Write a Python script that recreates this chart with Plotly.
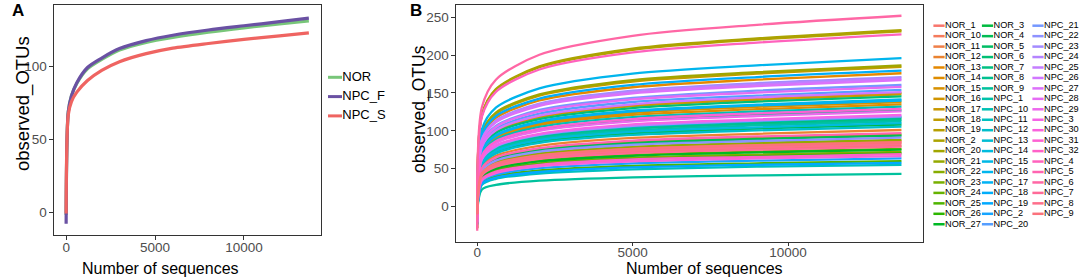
import math
import plotly.graph_objects as go

W, H = 1084, 280

# ---------------- Panel A data (group means) ----------------
a_groups = ["NOR", "NPC_F", "NPC_S"]
a_colors = ["#78C679", "#6A51A3", "#EF6461"]
a_x = [0, 120, 300, 600, 1200, 2000, 3000, 4500, 6000, 8000, 10000, 12000, 13650]
a_nor = [-2, 69, 80, 88.5, 98.5, 105, 111.5, 116.8, 120.2, 123.8, 126.8, 129.5, 131.5]
a_npc_f = [-8, 69, 80, 89, 99.5, 106, 112.5, 118, 121.7, 125.3, 128.2, 131, 133.5]
a_npc_s = [-1, 67, 76, 82.5, 90.5, 97.5, 103.5, 109, 112.8, 116, 118.8, 121.3, 123.3]

# ---------------- Panel B data (samples) ----------------
b_names = ["NOR_1", "NOR_10", "NOR_11", "NOR_12", "NOR_13", "NOR_14", "NOR_15", "NOR_16", "NOR_17",
           "NOR_18", "NOR_19", "NOR_2", "NOR_20", "NOR_21", "NOR_22", "NOR_23", "NOR_24", "NOR_25",
           "NOR_26", "NOR_27", "NOR_3", "NOR_4", "NOR_5", "NOR_6", "NOR_7", "NOR_8", "NOR_9",
           "NPC_1", "NPC_10", "NPC_11", "NPC_12", "NPC_13", "NPC_14", "NPC_15", "NPC_16", "NPC_17",
           "NPC_18", "NPC_19", "NPC_2", "NPC_20", "NPC_21", "NPC_22", "NPC_23", "NPC_24", "NPC_25",
           "NPC_26", "NPC_27", "NPC_28", "NPC_29", "NPC_3", "NPC_30", "NPC_31", "NPC_32", "NPC_4",
           "NPC_5", "NPC_6", "NPC_7", "NPC_8", "NPC_9"]
b_x = [0, 150, 600, 2000, 5000, 9000, 13650]
b_at_0 = [-10, -11, -10, -13, -22, -17, -17, -18, -19, -23, -29, -29, -23, -11, -9, -9.5, -12, -7.5,
          -9, -9.5, -13.5, -12, -14.5, -18, -16, -14.5, -5.5, -14, -16.5, -7, -13, -15, -14, -18,
          -24.5, -17.5, -22.5, -7, -8, -19, -20, -11.5, -21.5, -15, -21, -19, -21, -20, -16, -15,
          -8.5, -16, -8.5, -28.5, -12, -32, -10, -10, -10.5]
b_at_150 = [44, 45, 41.5, 52.5, 91.5, 70, 72, 77, 78, 96, 120.5, 121, 97, 46, 37.5, 39.5, 49.5, 31,
            36.5, 39, 56, 48.5, 60.5, 75.5, 66, 59.5, 22.5, 58.5, 68.5, 28.5, 55, 61.5, 57, 73.5,
            102, 73, 93.5, 30, 33, 80, 83.5, 47.5, 89, 62, 88, 78.5, 87, 82, 65.5, 63, 34.5, 67,
            36, 118.5, 50.5, 131, 41, 42.5, 44]
b_at_600 = [56, 57.5, 53, 67, 117, 90, 92, 98.5, 100, 122.5, 154, 155, 124, 58.5, 48, 50.5, 63, 40,
            46.5, 50, 72, 62, 77.5, 97, 84.5, 76, 28.5, 75, 88, 36.5, 70, 78.5, 73, 94, 130.5, 93,
            119.5, 38, 42, 102.5, 106.5, 60.5, 113.5, 79, 112.5, 100.5, 111, 105, 83.5, 80.5, 44,
            86, 46, 151.5, 64.5, 167.5, 52.5, 54.5, 56.5]
b_at_2000 = [67, 69, 63.5, 80, 140, 107.5, 109.5, 117.5, 119, 146.5, 184, 185, 148, 70, 57, 60.5,
             75.5, 47.5, 55.5, 59.5, 86, 74.5, 92.5, 115.5, 101, 91, 34, 89.5, 105, 43.5, 84, 94,
             87.5, 112.5, 156, 111.5, 142.5, 45.5, 50.5, 122.5, 127.5, 72.5, 136, 94.5, 134.5, 120,
             133, 125.5, 100, 96, 53, 102.5, 55, 181, 77, 200.5, 63, 65, 67.5]
b_at_5000 = [75, 77.5, 71.5, 90.5, 157.5, 121, 123.5, 132.5, 134, 165, 207, 208.5, 167, 79, 64.5,
             68, 85, 53.5, 62.5, 67, 96.5, 83.5, 104.5, 130, 113.5, 102.5, 38.5, 100.5, 118, 49,
             94.5, 105.5, 98.5, 126.5, 175.5, 125.5, 160.5, 51.5, 57, 138, 143.5, 81.5, 153, 106.5,
             151, 135, 149.5, 141.5, 112.5, 108.5, 59.5, 115.5, 62, 203.5, 87, 225.5, 70.5, 73.5, 76]
b_at_9000 = [80, 82.5, 76, 96, 167.5, 128.5, 131.5, 141, 143, 175.5, 220.5, 222, 177.5, 84, 68.5,
             72.5, 90.5, 57, 66.5, 71.5, 103, 89, 111, 138.5, 121, 109, 41, 107, 125.5, 52.5, 100.5,
             112.5, 104.5, 134.5, 186.5, 133.5, 171, 55, 60.5, 146.5, 153, 86.5, 163, 113.5, 161,
             144, 159, 150.5, 119.5, 115, 63.5, 123, 65.5, 216.5, 92.5, 240, 75, 78, 81]
b_at_13650 = [84, 86.5, 80, 101, 176, 135, 138, 148, 150, 184.5, 231.5, 233, 186.5, 88, 72, 76, 95,
              60, 70, 75, 108, 93.5, 116.5, 145.5, 127, 114.5, 43, 112.5, 132, 55, 105.5, 118, 110,
              141.5, 196, 140, 179.5, 57.5, 63.5, 154, 160.5, 91, 171, 119, 169, 151, 167, 158,
              125.5, 121, 66.5, 129, 69, 227.5, 97, 252, 79, 82, 85]

b_cols = [b_at_0, b_at_150, b_at_600, b_at_2000, b_at_5000, b_at_9000, b_at_13650]
for c in b_cols:
    assert len(c) == len(b_names)


def hue_pal(n, h0=15, c=100, l=65):
    """ggplot2 default hue palette (polar LUV -> sRGB)."""
    out = []
    Xn, Yn, Zn = 95.047, 100.0, 108.883
    un = 4 * Xn / (Xn + 15 * Yn + 3 * Zn)
    vn = 9 * Yn / (Xn + 15 * Yn + 3 * Zn)
    for i in range(n):
        h = math.radians(h0 + 360.0 * i / n)
        U, V = c * math.cos(h), c * math.sin(h)
        Y = Yn * ((l + 16) / 116.0) ** 3
        up = U / (13 * l) + un
        vp = V / (13 * l) + vn
        X = Y * 9 * up / (4 * vp)
        Z = Y * (12 - 3 * up - 20 * vp) / (4 * vp)
        X, Y, Z = X / 100, Y / 100, Z / 100
        rgb = [3.2404542 * X - 1.5371385 * Y - 0.4985314 * Z,
               -0.9692660 * X + 1.8760108 * Y + 0.0415560 * Z,
               0.0556434 * X - 0.2040259 * Y + 1.0572252 * Z]
        res = []
        for v in rgb:
            v = 12.92 * v if v <= 0.0031308 else 1.055 * v ** (1 / 2.4) - 0.055
            res.append(int(round(min(max(v, 0), 1) * 255)))
        out.append("#%02X%02X%02X" % tuple(res))
    return out


b_colors = hue_pal(len(b_names))
FONT = "Liberation Sans, Arial, Helvetica, sans-serif"

fig = go.Figure()

# Panel A lines
for name, ys, col in zip(a_groups, [a_nor, a_npc_f, a_npc_s], a_colors):
    fig.add_trace(go.Scatter(x=a_x, y=ys, mode="lines", name=name, showlegend=False,
                             line=dict(color=col, width=3.2, shape="spline", smoothing=0.8),
                             xaxis="x", yaxis="y"))

# Panel B lines
for i, name in enumerate(b_names):
    ys = [col[i] for col in b_cols]
    fig.add_trace(go.Scatter(x=b_x, y=ys, mode="lines", name=name, showlegend=False,
                             line=dict(color=b_colors[i], width=2.3, shape="spline", smoothing=0.8),
                             xaxis="x2", yaxis="y2"))

# Legends drawn on a pixel overlay axis (x3/y3)
la_x0, la_y0, la_dy = 335, 77.3, 19.3
fig.add_trace(go.Scatter(
    x=[la_x0] * len(a_groups), y=[la_y0 + i * la_dy for i in range(len(a_groups))],
    mode="markers+text", text=a_groups, textposition="middle right",
    textfont=dict(size=13, color="#000000", family=FONT),
    marker=dict(symbol="line-ew", size=10, line=dict(width=3, color=a_colors)),
    showlegend=False, hoverinfo="skip", xaxis="x3", yaxis="y3", cliponaxis=False))

rows_per_col = 20
col_x = [939, 987.5, 1038]
lb_y0, lb_dy = 25.7, 10.45
lx, ly = [], []
for i in range(len(b_names)):
    lx.append(col_x[i // rows_per_col])
    ly.append(lb_y0 + (i % rows_per_col) * lb_dy)
fig.add_trace(go.Scatter(
    x=lx, y=ly, mode="markers+text", text=b_names, textposition="middle right",
    textfont=dict(size=9.2, color="#000000", family=FONT),
    marker=dict(symbol="line-ew", size=8, line=dict(width=2.5, color=b_colors)),
    showlegend=False, hoverinfo="skip", xaxis="x3", yaxis="y3", cliponaxis=False))


def px2x(p):
    return p / W


def px2y(p):
    return 1 - p / H


axis_common = dict(showgrid=False, zeroline=False, showline=True, mirror=True,
                   linecolor="#333333", linewidth=1.2, ticks="outside", ticklen=3.5,
                   tickcolor="#333333", tickwidth=1,
                   tickfont=dict(size=13.5, color="#4D4D4D", family=FONT))

fig.update_layout(
    width=W, height=H, autosize=False,
    margin=dict(l=0, r=0, t=0, b=0),
    paper_bgcolor="white", plot_bgcolor="rgba(0,0,0,0)",
    font=dict(family=FONT, color="#000000"),
    showlegend=False,
    xaxis=dict(domain=[px2x(54), px2x(321)], range=[-683, 14333], tickvals=[0, 5000, 10000],
               tickformat="d", anchor="y", ticklabelstandoff=-4, **axis_common),
    yaxis=dict(domain=[px2y(235), px2y(5)], range=[-15.8, 142.5], tickvals=[0, 50, 100],
               anchor="x", **axis_common),
    xaxis2=dict(domain=[px2x(456), px2x(922.7)], range=[-683, 14333], tickvals=[0, 5000, 10000],
                tickformat="d", anchor="y2", ticklabelstandoff=-6, **axis_common),
    yaxis2=dict(domain=[px2y(241.7), px2y(5)], range=[-46.6, 266.2],
                tickvals=[0, 50, 100, 150, 200, 250], anchor="x2", **axis_common),
    xaxis3=dict(domain=[0, 1], range=[0, W], visible=False, anchor="y3", fixedrange=True),
    yaxis3=dict(domain=[0, 1], range=[H, 0], visible=False, anchor="x3", fixedrange=True),
)

ann = [
    dict(text="<b>A</b>", x=px2x(17.5), y=px2y(11), size=17, angle=0),
    dict(text="<b>B</b>", x=px2x(416), y=px2y(11), size=17, angle=0),
    dict(text="Number of sequences", x=px2x(161), y=px2y(268.5), size=16, angle=0),
    dict(text="Number of sequences", x=px2x(704), y=px2y(268.5), size=16, angle=0),
    dict(text="observed_OTUs", x=px2x(23), y=px2y(104), size=18.5, angle=-90),
    dict(text="observed_OTUs", x=px2x(420), y=px2y(109), size=17.5, angle=-90),
]
for a in ann:
    fig.add_annotation(text=a["text"], x=a["x"], y=a["y"], xref="paper", yref="paper",
                       showarrow=False, xanchor="center", yanchor="middle",
                       textangle=a["angle"], font=dict(size=a["size"], color="#000000", family=FONT))

fig.write_html("out.html", config={"displayModeBar": False},
               post_script="document.body.style.margin='0px';document.body.style.overflow='hidden';")
